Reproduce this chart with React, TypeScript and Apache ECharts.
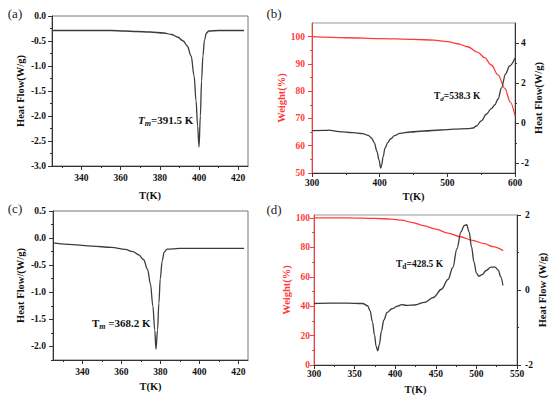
import React, { useEffect, useRef } from "react";
import * as echarts from "echarts";

const FONT = "'Liberation Serif', 'Times New Roman', serif";

// Panel (a) DSC
const aTemp = [325, 340, 355, 362, 368, 375, 382, 386, 389, 392, 394, 396, 397.5, 398.5, 399.3, 400, 400.7, 401.3, 402, 402.8, 403.8, 405, 410, 423];
const aHeat = [-0.29, -0.29, -0.29, -0.3, -0.31, -0.32, -0.34, -0.37, -0.42, -0.5, -0.6, -0.8, -1.2, -1.7, -2.2, -2.62, -2.0, -1.3, -0.8, -0.48, -0.34, -0.3, -0.29, -0.29];

// Panel (b) TGA + DSC
const bWTemp = [300, 350, 400, 450, 480, 500, 515, 530, 545, 555, 565, 575, 585, 593, 600];
const bWeight = [100, 99.6, 99.3, 99.0, 98.7, 98.2, 97.4, 96.3, 94.2, 92.3, 89.6, 86, 81, 76, 71];
const bHTemp = [300, 320, 325, 340, 360, 375, 383, 388, 392, 396, 399, 401.5, 403, 405, 408, 412, 416, 422, 430, 445, 465, 490, 510, 530, 538, 543, 550, 558, 565, 570, 575, 580, 586, 592, 600];
const bHeat = [-0.38, -0.37, -0.36, -0.43, -0.48, -0.53, -0.62, -0.75, -0.98, -1.42, -1.85, -2.25, -2.1, -1.7, -1.25, -0.98, -0.8, -0.63, -0.52, -0.45, -0.4, -0.35, -0.31, -0.28, -0.25, -0.15, 0.1, 0.45, 0.72, 0.9, 1.2, 1.75, 2.45, 2.85, 3.25];

// Panel (c) DSC
const cTemp = [325, 335, 345, 355, 362, 366, 369, 371.5, 373.5, 375, 376.2, 377.2, 377.8, 378.6, 379.3, 380, 381, 382, 383.5, 390, 405, 423];
const cHeat = [-0.09, -0.12, -0.15, -0.17, -0.21, -0.25, -0.31, -0.4, -0.58, -0.85, -1.25, -1.7, -2.05, -1.7, -1.2, -0.75, -0.42, -0.26, -0.205, -0.19, -0.19, -0.19];

// Panel (d) TGA + DSC
const dWTemp = [300, 340, 375, 395, 408, 420, 435, 450, 465, 480, 495, 510, 520, 533];
const dWeight = [100, 100, 99.7, 99.2, 98.5, 97, 94.8, 92.4, 89.7, 87.2, 84.8, 82.5, 80.5, 77.8];
const dHTemp = [300, 320, 340, 360, 366, 369, 372, 374.5, 376.5, 378.5, 380.5, 383, 386, 390, 396, 403, 408, 414, 424, 436, 447, 457, 465, 471, 476, 481, 485, 488, 491, 494, 497, 500, 503, 507, 512, 518, 523, 527, 530, 532.7];
const dHeat = [-0.36, -0.35, -0.35, -0.36, -0.42, -0.55, -0.85, -1.2, -1.5, -1.62, -1.45, -1.1, -0.8, -0.6, -0.5, -0.43, -0.39, -0.41, -0.4, -0.33, -0.2, 0.02, 0.28, 0.6, 1.1, 1.55, 1.72, 1.74, 1.55, 1.15, 0.75, 0.45, 0.37, 0.41, 0.52, 0.61, 0.61, 0.53, 0.35, 0.12];

// Tick values
const dscXMajor = [340, 360, 380, 400, 420];
const dscXMinor = [330, 350, 370, 390, 410];
const aYMajor = [-3, -2.5, -2, -1.5, -1, -0.5, 0];
const aYMinor = [-2.75, -2.25, -1.75, -1.25, -0.75, -0.25];
const cYMajor = [-2, -1.5, -1, -0.5, 0, 0.5];
const cYMinor = [-2.25, -1.75, -1.25, -0.75, -0.25, 0.25];
const bXMajor = [300, 400, 500, 600];
const bXMinor = [350, 450, 550];
const bWMajor = [50, 60, 70, 80, 90, 100];
const bWMinor = [55, 65, 75, 85, 95];
const bHMajor = [-2, 0, 2, 4];
const bHMinor = [-1, 1, 3];
const dXMajor = [300, 350, 400, 450, 500, 550];
const dXMinor = [325, 375, 425, 475, 525];
const dWMajor = [0, 20, 40, 60, 80, 100];
const dWMinor = [10, 30, 50, 70, 90];
const dHMajor = [-2, 0, 2];
const dHMinor = [-1, 1];

const RED = "#ff3a3a";
const DARK = "#333";
const LINE = "#3c3c3c";

const zip = (xs: number[], ys: number[]) => xs.map((x, i) => [x, ys[i]]);

type AxOpt = {
  dim: "x" | "y";
  gridIndex: number;
  min: number;
  max: number;
  position: string;
  major: number[];
  minor: number[];
  name: string;
  nameGap: number;
  margin: number;
  color: string;
  lineColor: string;
  decimals: number;
};

export default function App() {
  const ref = useRef<HTMLDivElement>(null);
  useEffect(() => {
    if (!ref.current) return;
    const chart = echarts.init(ref.current, undefined, { renderer: "svg" });
    const xAxis: any[] = [];
    const yAxis: any[] = [];
    const add = (o: AxOpt): number => {
      const list = o.dim === "x" ? xAxis : yAxis;
      const main = {
        type: "value",
        gridIndex: o.gridIndex,
        min: o.min,
        max: o.max,
        position: o.position,
        name: o.name,
        nameLocation: "middle",
        nameGap: o.nameGap,
        nameRotate: o.dim === "y" ? 90 : 0,
        nameTextStyle: { fontFamily: FONT, fontWeight: "bold", fontSize: 10.5, color: o.color },
        axisLine: { show: true, onZero: false, lineStyle: { color: o.lineColor, width: 1 } },
        axisTick: { show: true, inside: false, length: 4, customValues: o.major, lineStyle: { color: o.lineColor, width: 1 } },
        minorTick: { show: false },
        axisLabel: {
          show: true,
          customValues: o.major,
          margin: o.margin,
          color: o.color,
          fontFamily: FONT,
          fontWeight: "bold",
          fontSize: 9.5,
          showMinLabel: true,
          showMaxLabel: true,
          hideOverlap: false,
          formatter: (v: number) => v.toFixed(o.decimals),
        },
        splitLine: { show: false },
      };
      list.push(main);
      const idx = list.length - 1;
      list.push({
        type: "value",
        gridIndex: o.gridIndex,
        min: o.min,
        max: o.max,
        position: o.position,
        axisLine: { show: false, onZero: false },
        axisTick: { show: true, inside: false, length: 2, customValues: o.minor, lineStyle: { color: o.lineColor, width: 1 } },
        axisLabel: { show: false },
        splitLine: { show: false },
      });
      return idx;
    };

    // grid 0: (a)
    const ax = add({ dim: "x", gridIndex: 0, min: 325, max: 425, position: "bottom", major: dscXMajor, minor: dscXMinor, name: "T(K)", nameGap: 24, margin: 7, color: "#111", lineColor: DARK, decimals: 0 });
    const ay = add({ dim: "y", gridIndex: 0, min: -3, max: 0, position: "left", major: aYMajor, minor: aYMinor, name: "Heat Flow(W/g)", nameGap: 26, margin: 6, color: "#111", lineColor: DARK, decimals: 1 });
    // grid 1: (b)
    const bx = add({ dim: "x", gridIndex: 1, min: 300, max: 600, position: "bottom", major: bXMajor, minor: bXMinor, name: "T(K)", nameGap: 18, margin: 5, color: "#111", lineColor: DARK, decimals: 0 });
    const byl = add({ dim: "y", gridIndex: 1, min: 50, max: 105, position: "left", major: bWMajor, minor: bWMinor, name: "Weight(%)", nameGap: 20, margin: 7, color: RED, lineColor: RED, decimals: 0 });
    const byr = add({ dim: "y", gridIndex: 1, min: -2.5, max: 5, position: "right", major: bHMajor, minor: bHMinor, name: "Heat Flow(W/g)", nameGap: 11, margin: 6, color: "#111", lineColor: DARK, decimals: 0 });
    // grid 2: (c)
    const cx = add({ dim: "x", gridIndex: 2, min: 325, max: 425, position: "bottom", major: dscXMajor, minor: dscXMinor, name: "T(K)", nameGap: 21, margin: 7, color: "#111", lineColor: DARK, decimals: 0 });
    const cy = add({ dim: "y", gridIndex: 2, min: -2.25, max: 0.5, position: "left", major: cYMajor, minor: cYMinor, name: "Heat Flow/(W/g)", nameGap: 27, margin: 7, color: "#111", lineColor: DARK, decimals: 1 });
    // grid 3: (d)
    const dx = add({ dim: "x", gridIndex: 3, min: 300, max: 550, position: "bottom", major: dXMajor, minor: dXMinor, name: "T(K)", nameGap: 19, margin: 4, color: "#111", lineColor: DARK, decimals: 0 });
    const dyl = add({ dim: "y", gridIndex: 3, min: 0, max: 102, position: "left", major: dWMajor, minor: dWMinor, name: "Weight(%)", nameGap: 17, margin: 4, color: RED, lineColor: RED, decimals: 0 });
    const dyr = add({ dim: "y", gridIndex: 3, min: -2, max: 2, position: "right", major: dHMajor, minor: dHMinor, name: "Heat Flow (W/g)", nameGap: 15, margin: 8, color: "#111", lineColor: DARK, decimals: 0 });

    const gridBase = { show: true, borderColor: "#777", borderWidth: 1, backgroundColor: "transparent" };
    const line = (xi: number, yi: number, data: number[][], color: string) => ({
      type: "line",
      xAxisIndex: xi,
      yAxisIndex: yi,
      data,
      showSymbol: false,
      smooth: 0.35,
      smoothMonotone: "x",
      lineStyle: { color, width: 1.3 },
      silent: true,
    });

    const label = (text: string, x: number, y: number) => ({
      type: "text",
      x,
      y,
      style: { text, fontFamily: FONT, fontSize: 13, fill: "#222", align: "center", verticalAlign: "middle" },
    });
    const rich = (big: number, small: number, drop: number) => ({
      n: { fontFamily: FONT, fontWeight: "bold", fontSize: big, color: "#111" },
      ni: { fontFamily: FONT, fontWeight: "bold", fontStyle: "italic", fontSize: big, color: "#111" },
      s: { fontFamily: FONT, fontWeight: "bold", fontSize: small, color: "#111", padding: [drop, 0, 0, 0] },
      si: { fontFamily: FONT, fontWeight: "bold", fontStyle: "italic", fontSize: small, color: "#111", padding: [drop, 0, 0, 0] },
    });
    const note = (text: string, x: number, y: number, big: number, small: number, drop: number) => ({
      type: "text",
      x,
      y,
      style: { text, rich: rich(big, small, drop), fontFamily: FONT, fontWeight: "bold", fontSize: big, fill: "#111", align: "left", verticalAlign: "middle" },
    });

    chart.setOption({
      animation: false,
      backgroundColor: "#fff",
      grid: [
        { ...gridBase, left: 52, top: 16, width: 196, height: 150 },
        { ...gridBase, borderColor: "#999", left: 312, top: 23, width: 203, height: 150 },
        { ...gridBase, left: 53, top: 211, width: 195, height: 149 },
        { ...gridBase, borderColor: "#999", left: 314, top: 215, width: 203, height: 150 },
      ],
      xAxis,
      yAxis,
      series: [
        line(ax, ay, zip(aTemp, aHeat), LINE),
        line(bx, byl, zip(bWTemp, bWeight), RED),
        line(bx, byr, zip(bHTemp, bHeat), LINE),
        line(cx, cy, zip(cTemp, cHeat), LINE),
        line(dx, dyl, zip(dWTemp, dWeight), RED),
        line(dx, dyr, zip(dHTemp, dHeat), LINE),
      ],
      graphic: [
        label("(a)", 15, 13),
        label("(b)", 274, 13),
        label("(c)", 15, 208),
        label("(d)", 274, 209),
        note("{ni|T}{si|m}{n|=391.5 K}", 138, 120, 11, 8, 7),
        note("{n|T}{si|d}{n|=538.3 K}", 434, 96, 9.5, 7, 5),
        note("{n|T}{si|m}{n| =368.2 K}", 92, 323, 11, 8, 7),
        note("{n|T}{s|d}{n|=428.5 K}", 396, 264, 9.5, 7.5, 5),
      ],
    });
    return () => chart.dispose();
  }, []);
  return <div ref={ref} style={{ position: "fixed", left: 0, top: 0, width: 550, height: 396 }} />;
}
